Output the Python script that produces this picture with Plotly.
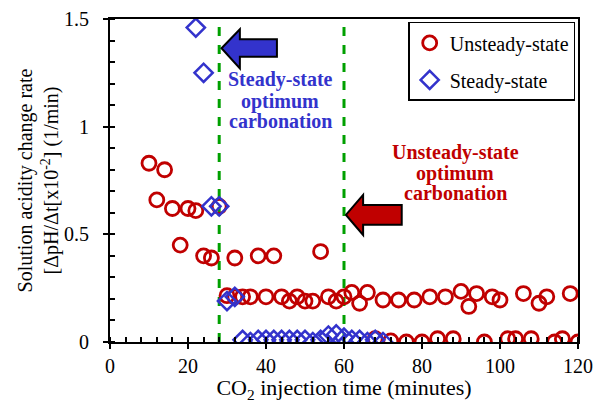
import plotly.graph_objects as go

# Unsteady-state series (red circles)
unsteady_x = [10, 12, 14, 16, 18, 20, 22, 24, 26, 28, 32, 38, 42, 54,
              30, 32, 34, 36, 40, 44, 46, 48, 50, 52, 56, 58, 60, 62, 64, 66, 70, 74, 78, 82, 86,
              90, 92, 94, 98, 100, 106, 110, 112, 118,
              68, 72, 76, 80, 84, 88, 96, 102, 104, 108, 114, 116, 120]
unsteady_y = [0.83, 0.66, 0.80, 0.62, 0.45, 0.62, 0.61, 0.40, 0.39, 0.63, 0.39, 0.40, 0.40, 0.42,
              0.215, 0.21, 0.21, 0.21, 0.21, 0.21, 0.19, 0.21, 0.19, 0.19, 0.21, 0.19, 0.21, 0.23, 0.18, 0.23, 0.195, 0.195, 0.195, 0.21, 0.21,
              0.235, 0.165, 0.225, 0.21, 0.195, 0.225, 0.18, 0.21, 0.225,
              0.015, 0.005, 0.0, 0.0, 0.015, 0.015, 0.0, 0.015, 0.015, 0.015, 0.0, 0.015, 0.0]

# Steady-state series (blue diamonds)
steady_x = [22, 24, 26, 28, 30, 32,
            34, 36, 38, 40, 42, 44, 46, 48, 50, 52, 54, 56, 58, 60, 62, 64, 66, 68, 70]
steady_y = [1.46, 1.25, 0.63, 0.63, 0.19, 0.21,
            0.01, 0.0, 0.01, 0.01, 0.01, 0.01, 0.01, 0.01, 0.01, 0.0, 0.01, 0.03, 0.035, 0.02, 0.01, 0.01, 0.0, 0.01, 0.0]

optimum_lines = [28, 60]

x_ticks = [0, 20, 40, 60, 80, 100, 120]
y_ticks = [0, 0.5, 1, 1.5]
y_tick_labels = ["0", "0.5", "1", "1.5"]

steady_label = ["Steady-state", "optimum", "carbonation"]
unsteady_label = ["Unsteady-state", "optimum", "carbonation"]

RED = "#C00000"
BLUE = "#3333CC"
FONT = "Liberation Serif"

fig = go.Figure()

fig.add_trace(go.Scatter(
    x=unsteady_x, y=unsteady_y, mode="markers", name="Unsteady-state", legendgroup="u",
    marker=dict(symbol="circle-open", size=14, color=RED, line=dict(width=2.8, color=RED)),
))
fig.add_trace(go.Scatter(
    x=steady_x, y=steady_y, mode="markers", name="Steady-state", legendgroup="s",
    marker=dict(symbol="diamond-open", size=14, color=BLUE, line=dict(width=2.5, color=BLUE)),
))

for xv in optimum_lines:
    fig.add_shape(type="line", x0=xv, x1=xv, y0=0, y1=1.5, xref="x", yref="y",
                  line=dict(color="#00A000", width=3, dash="dash"), layer="below")

# Block arrows
blue_arrow = ("M 28.6 1.364 L 33.3 1.452 L 33.3 1.406 L 42.8 1.406 "
              "L 42.8 1.325 L 33.3 1.325 L 33.3 1.271 Z")
red_arrow = ("M 60.5 0.59 L 64.9 0.683 L 64.9 0.636 L 74.8 0.636 "
             "L 74.8 0.544 L 64.9 0.544 L 64.9 0.497 Z")
fig.add_shape(type="path", path=blue_arrow, xref="x", yref="y",
              fillcolor=BLUE, line=dict(color="black", width=2))
fig.add_shape(type="path", path=red_arrow, xref="x", yref="y",
              fillcolor=RED, line=dict(color="black", width=2))

for txt, yv in zip(steady_label, [1.217, 1.119, 1.026]):
    fig.add_annotation(x=43.7, y=yv, xref="x", yref="y", showarrow=False,
                       text=f"<b>{txt}</b>", font=dict(family=FONT, size=20, color=BLUE))
for txt, yv in zip(unsteady_label, [0.882, 0.784, 0.690]):
    fig.add_annotation(x=88.5, y=yv, xref="x", yref="y", showarrow=False,
                       text=f"<b>{txt}</b>", font=dict(family=FONT, size=20, color=RED))

axis_common = dict(showline=True, linecolor="black", linewidth=2, mirror=True,
                   showgrid=False, zeroline=False, ticks="outside", ticklen=5,
                   tickwidth=1.5, tickcolor="black", automargin=False,
                   tickfont=dict(family=FONT, size=20, color="black"))

fig.update_xaxes(range=[0, 120], tickvals=x_ticks, **axis_common,
                 minor=dict(ticks="inside", dtick=4, ticklen=5, tickcolor="black", tickwidth=1.5),
                 title=dict(text="CO<sub>2</sub> injection time (minutes)",
                            font=dict(family=FONT, size=22, color="black"), standoff=10))
fig.update_yaxes(range=[0, 1.5], tickvals=y_ticks, ticktext=y_tick_labels, **axis_common,
                 ticklabelstandoff=10,
                 minor=dict(ticks="inside", dtick=0.1, ticklen=5, tickcolor="black", tickwidth=1.5),
                 title=dict(text="Solution acidity change rate<br>[ΔpH/Δt[x10<sup>-2</sup>] (1/min)",
                            font=dict(family=FONT, size=20, color="black"), standoff=0))

fig.update_layout(
    width=597, height=403,
    margin=dict(l=110, r=19, t=19, b=61),
    paper_bgcolor="white", plot_bgcolor="white",
    showlegend=True,
    legend=dict(x=0.994, y=0.991, xanchor="right", yanchor="top",
                bordercolor="black", borderwidth=1.5, bgcolor="white",
                font=dict(family=FONT, size=20, color="black"),
                traceorder="grouped", itemwidth=30, tracegroupgap=8),
)

# remove the page's default body margin so the figure fills the window exactly
fig.write_html("out.html", config={"displayModeBar": False},
               post_script="document.body.style.margin='0';document.body.style.overflow='hidden';")
